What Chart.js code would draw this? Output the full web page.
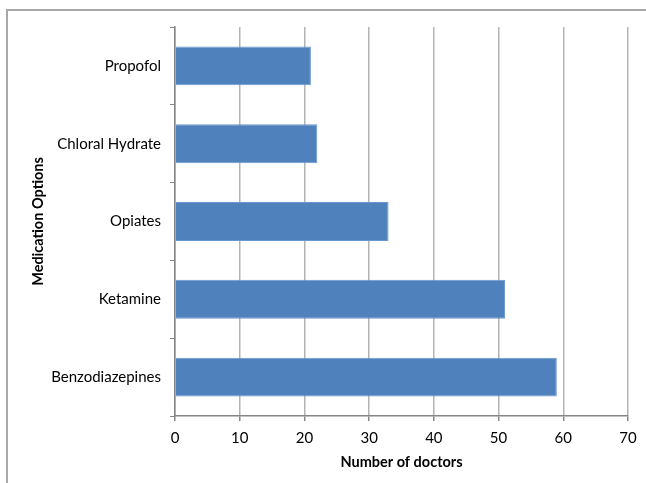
<!DOCTYPE html>
<html>
<head>
<meta charset="utf-8">
<script src="https://cdn.jsdelivr.net/npm/chart.js@4/dist/chart.umd.min.js"></script>
<style>
  html, body { margin: 0; padding: 0; background: #fff; }
  #wrap { width: 646px; height: 483px; position: relative; }
</style>
</head>
<body>
<div id="wrap"><canvas id="chart" width="646" height="483"></canvas></div>
<script>
// Survey results: how many doctors chose each sedation medication
const categories = ['Propofol', 'Chloral Hydrate', 'Opiates', 'Ketamine', 'Benzodiazepines'];
const doctorCounts = [21, 22, 33, 51, 59];
const xTicks = [0, 10, 20, 30, 40, 50, 60, 70];

const FONT = 'Lato, "Open Sans", "Liberation Sans", sans-serif';

// Paints the white background and the frame around the chart
const framePlugin = {
  id: 'frame',
  beforeDraw(chart) {
    const ctx = chart.ctx;
    ctx.save();
    ctx.fillStyle = '#ffffff';
    ctx.fillRect(0, 0, chart.width, chart.height);
    ctx.strokeStyle = '#a8a8a8';
    ctx.lineWidth = 2;
    ctx.beginPath();
    ctx.moveTo(chart.width, 10);
    ctx.lineTo(7, 10);
    ctx.lineTo(7, chart.height);
    ctx.stroke();
    ctx.restore();
  }
};

new Chart(document.getElementById('chart'), {
  type: 'bar',
  data: {
    labels: categories,
    datasets: [{
      data: doctorCounts,
      backgroundColor: '#4f81bd',
      borderColor: '#6a97cf',
      borderWidth: 1,
      barPercentage: 0.5,
      categoryPercentage: 1.0
    }]
  },
  options: {
    indexAxis: 'y',
    responsive: false,
    animation: false,
    layout: { padding: { left: 0, top: 27, right: 18, bottom: 0 } },
    plugins: {
      legend: { display: false },
      tooltip: { enabled: false }
    },
    scales: {
      x: {
        min: 0,
        max: 70,
        afterBuildTicks(scale) {
          scale.ticks = xTicks.map(v => ({ value: v }));
        },
        afterFit(scale) { scale.height = 67; },
        grid: {
          color: '#b4b4b4',
          lineWidth: 1.5,
          tickColor: '#868686',
          tickLength: 5,
          drawTicks: true
        },
        border: { display: true, color: '#868686', width: 1.5 },
        ticks: {
          color: '#000000',
          font: { family: FONT, size: 15 },
          padding: 8,
          maxRotation: 0
        },
        title: {
          display: true,
          text: 'Number of doctors',
          color: '#000000',
          font: { family: FONT, size: 14.5, weight: 'bold' },
          padding: { top: 0, bottom: 12 }
        }
      },
      y: {
        afterFit(scale) { scale.width = 175; },
        grid: {
          drawOnChartArea: false,
          drawTicks: true,
          tickLength: 5,
          offset: true,
          color: '#868686',
          tickColor: '#868686'
        },
        border: { display: true, color: '#868686', width: 1.5 },
        ticks: {
          color: '#000000',
          font: { family: FONT, size: 15 },
          padding: 9
        },
        title: {
          display: true,
          text: 'Medication Options',
          color: '#000000',
          font: { family: FONT, size: 14.5, weight: 'bold' },
          padding: { top: 30, bottom: 0 }
        }
      }
    }
  },
  plugins: [framePlugin]
});
</script>
</body>
</html>
